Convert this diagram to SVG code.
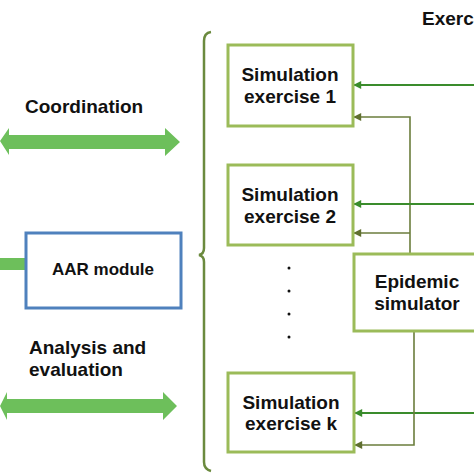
<svg xmlns="http://www.w3.org/2000/svg" width="474" height="474" viewBox="0 0 474 474">
<defs>
<style>
text{font-family:"Liberation Sans",Arial,sans-serif;font-weight:bold;font-size:19px;fill:#111}
.c{text-anchor:middle}
.box{fill:#fff;stroke:#9bbb59;stroke-width:3}
.g{stroke:#3a8c2c;stroke-width:2;fill:none}
.o{stroke:#6b7d3c;stroke-width:1.6;fill:none}
.big{fill:#6dbf5b}
</style>
<marker id="ag" viewBox="0 0 10 10" refX="9" refY="5" markerWidth="10" markerHeight="8" markerUnits="userSpaceOnUse" orient="auto"><path d="M0,0L10,5L0,10z" fill="#3a8c2c"/></marker>
<marker id="ao" viewBox="0 0 10 10" refX="9" refY="5" markerWidth="10" markerHeight="8" markerUnits="userSpaceOnUse" orient="auto"><path d="M0,0L10,5L0,10z" fill="#5f6f30"/></marker>
</defs>
<rect width="474" height="474" fill="#fff"/>
<text x="422" y="25">Exerc</text>
<g id="coordination">
<path class="big" d="M0,141 L9,128 L9,135 L165,135 L165,128 L180,142 L165,156 L165,149 L9,149 L9,155 Z"/>
<text x="25" y="113">Coordination</text>
</g>
<g id="aar">
<rect x="0" y="258" width="27" height="12" class="big"/>
<rect x="26" y="233" width="155" height="75" fill="#fff" stroke="#4f81bd" stroke-width="3"/>
<text x="103" y="275" class="c" style="font-size:17px">AAR module</text>
</g>
<g id="analysis">
<text x="29" y="354">Analysis and</text>
<text x="29" y="376">evaluation</text>
<path class="big" d="M0,406 L7,392 L7,399 L163,399 L163,392 L177,406 L163,420 L163,413 L7,413 L7,420 Z"/>
</g>
<g id="brace">
<path d="M211,32 Q204,33 204,41 L204,248 Q204,254 199,255 Q204,256 204,262 L204,462 Q204,469 211,471" fill="none" stroke="#6b8a3e" stroke-width="2.5"/>
</g>
<g id="connectors">
<path class="g" d="M474,85 L354,85" marker-end="url(#ag)"/>
<path class="o" d="M410,254 L410,117 L354,117" marker-end="url(#ao)"/>
<path class="g" d="M474,204 L354,204" marker-end="url(#ag)"/>
<path class="o" d="M410,233 L354,233" marker-end="url(#ao)"/>
<path class="g" d="M474,413 L355,413" marker-end="url(#ag)"/>
<path class="o" d="M414,331 L414,445 L355,445" marker-end="url(#ao)"/>
</g>
<g id="sim1">
<rect class="box" x="228" y="45" width="125" height="81"/>
<text x="290" y="81" class="c">Simulation</text>
<text x="290" y="103" class="c">exercise 1</text>
</g>
<g id="sim2">
<rect class="box" x="228" y="165" width="125" height="80"/>
<text x="290" y="201" class="c">Simulation</text>
<text x="290" y="223" class="c">exercise 2</text>
</g>
<g id="dots" fill="#111">
<circle cx="289" cy="268" r="1.5"/>
<circle cx="289" cy="291" r="1.5"/>
<circle cx="289" cy="314" r="1.5"/>
<circle cx="289" cy="337" r="1.5"/>
</g>
<g id="simk">
<rect class="box" x="228" y="373" width="126" height="79"/>
<text x="291" y="409" class="c">Simulation</text>
<text x="291" y="430" class="c">exercise k</text>
</g>
<g id="epidemic">
<rect class="box" x="354" y="254" width="130" height="77"/>
<text x="417" y="288" class="c">Epidemic</text>
<text x="417" y="310" class="c">simulator</text>
</g>
</svg>
